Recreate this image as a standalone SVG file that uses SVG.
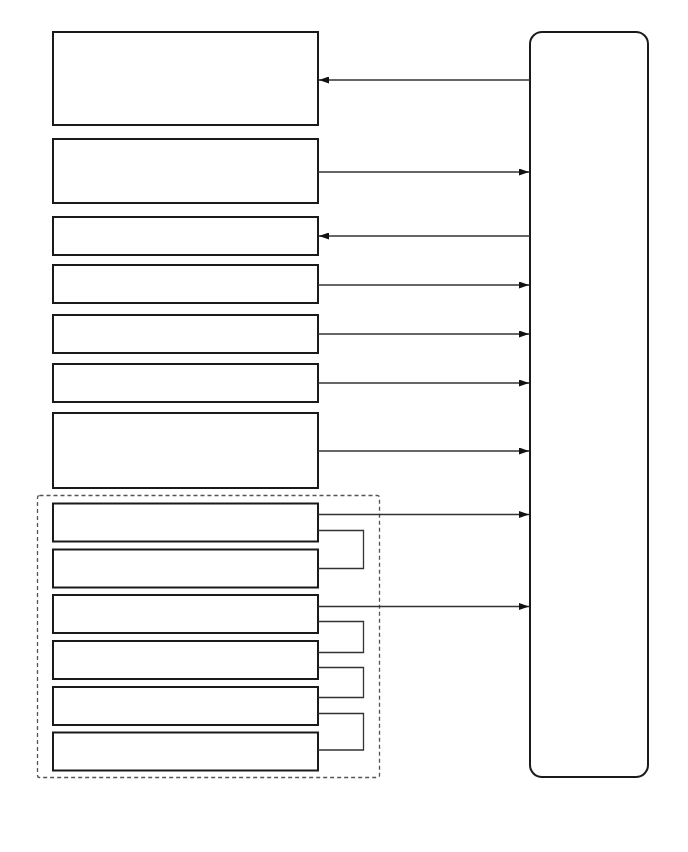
<svg xmlns="http://www.w3.org/2000/svg" width="688" height="852" viewBox="0 0 688 852">
<style>
.box{fill:#fff;stroke:#1a1a1a;stroke-width:2}
.con{fill:none;stroke:#333;stroke-width:1.3}
.grp{fill:none;stroke:#555;stroke-width:1.3;stroke-dasharray:4 3}
</style>
<defs>
<marker id="ah" viewBox="0 0 10 7" refX="10" refY="3.5" markerWidth="10" markerHeight="7" markerUnits="userSpaceOnUse" orient="auto">
<path d="M0,0 L10,3.5 L0,7 Z" fill="#111"/>
</marker>
</defs>
<rect width="688" height="852" fill="#fff"/>
<rect id="group" class="grp" x="37.5" y="495.5" width="342" height="282" rx="2"/>
<g id="n1"><rect class="box" x="53" y="32" width="265" height="93"/></g>
<g id="n2"><rect class="box" x="53" y="139" width="265" height="64"/></g>
<g id="n3"><rect class="box" x="53" y="217" width="265" height="38"/></g>
<g id="n4"><rect class="box" x="53" y="265" width="265" height="38"/></g>
<g id="n5"><rect class="box" x="53" y="315" width="265" height="38"/></g>
<g id="n6"><rect class="box" x="53" y="364" width="265" height="38"/></g>
<g id="n7"><rect class="box" x="53" y="413" width="265" height="75"/></g>
<g id="n8"><rect class="box" x="53" y="503.5" width="265" height="38"/></g>
<g id="n9"><rect class="box" x="53" y="549.5" width="265" height="38"/></g>
<g id="n10"><rect class="box" x="53" y="595" width="265" height="38"/></g>
<g id="n11"><rect class="box" x="53" y="641" width="265" height="38"/></g>
<g id="n12"><rect class="box" x="53" y="687" width="265" height="38"/></g>
<g id="n13"><rect class="box" x="53" y="732.5" width="265" height="38"/></g>
<g id="right"><rect class="box" x="530" y="32" width="118" height="745" rx="12"/></g>
<g id="connectors">
<line class="con" x1="530" y1="80" x2="319" y2="80" marker-end="url(#ah)"/>
<line class="con" x1="318" y1="172" x2="529" y2="172" marker-end="url(#ah)"/>
<line class="con" x1="530" y1="236" x2="319" y2="236" marker-end="url(#ah)"/>
<line class="con" x1="318" y1="285" x2="529" y2="285" marker-end="url(#ah)"/>
<line class="con" x1="318" y1="334" x2="529" y2="334" marker-end="url(#ah)"/>
<line class="con" x1="318" y1="383" x2="529" y2="383" marker-end="url(#ah)"/>
<line class="con" x1="318" y1="451" x2="529" y2="451" marker-end="url(#ah)"/>
<line class="con" x1="318" y1="514.5" x2="529" y2="514.5" marker-end="url(#ah)"/>
<line class="con" x1="318" y1="606.5" x2="529" y2="606.5" marker-end="url(#ah)"/>
<polyline class="con" points="318,530.5 363.5,530.5 363.5,568.5 318,568.5"/>
<polyline class="con" points="318,621.5 363.5,621.5 363.5,652.5 318,652.5"/>
<polyline class="con" points="318,667.5 363.5,667.5 363.5,697.5 318,697.5"/>
<polyline class="con" points="318,713.5 363.5,713.5 363.5,750 318,750"/>
</g>
</svg>
